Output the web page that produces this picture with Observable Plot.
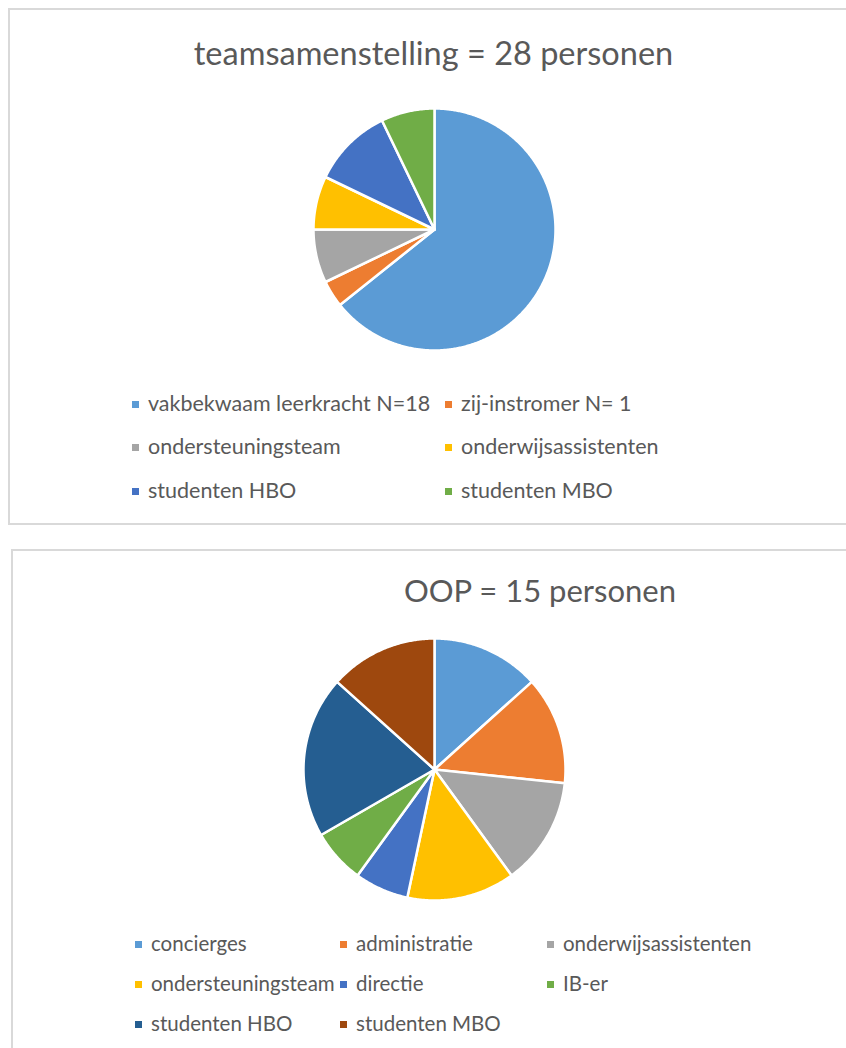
<!DOCTYPE html>
<html><head><meta charset="utf-8">
<script src="https://cdn.jsdelivr.net/npm/d3@7"></script>
<script src="https://cdn.jsdelivr.net/npm/@observablehq/plot@0.6"></script>
<style>
html,body{margin:0;padding:0;background:#fff}
body{width:846px;height:1048px;overflow:hidden;position:relative;font-family:Lato,"Open Sans",sans-serif;color:#595959}
.box{position:absolute;border:2px solid #d9d9d9;box-sizing:border-box}
.title{position:absolute;white-space:nowrap;line-height:1;transform:translateX(-50%)}
.pie{position:absolute}
.leg{position:absolute;white-space:nowrap;height:24px;line-height:24px;display:flex;align-items:center}
.sw{width:7px;height:7px;margin-right:9px;flex:none;position:relative;top:1px}
</style></head><body>
<script>
// ---- data ----
const teamCategories = ["vakbekwaam leerkracht N=18","zij-instromer N= 1","ondersteuningsteam","onderwijsassistenten","studenten HBO","studenten MBO"];
const teamValues = [18, 1, 2, 2, 3, 2];
const teamColors = ["#5B9BD5","#ED7D31","#A5A5A5","#FFC000","#4472C4","#70AD47"];
const teamTitle = "teamsamenstelling = 28 personen";

const oopCategories = ["concierges","administratie","onderwijsassistenten","ondersteuningsteam","directie","IB-er","studenten HBO","studenten MBO"];
const oopValues = [2, 2, 2, 2, 1, 1, 3, 2];
const oopColors = ["#5B9BD5","#ED7D31","#A5A5A5","#FFC000","#4472C4","#70AD47","#255E91","#9E480E"];
const oopTitle = "OOP = 15 personen";

// ---- helpers ----
function piePlot(cats, vals, colors, r) {
  const pad = 4;
  const arcs = d3.pie().sort(null).value(d => d)(vals);
  const pts = [];
  arcs.forEach((a, i) => {
    const n = Math.max(2, Math.ceil((a.endAngle - a.startAngle) / (Math.PI / 360)));
    pts.push({c: cats[i], x: 0, y: 0});
    for (let k = 0; k <= n; k++) {
      const t = a.startAngle + (a.endAngle - a.startAngle) * k / n;
      pts.push({c: cats[i], x: r * Math.sin(t), y: r * Math.cos(t)});
    }
    pts.push({c: cats[i], x: 0, y: 0});
  });
  const R = r + pad;
  return Plot.plot({
    width: 2 * R, height: 2 * R, margin: 0,
    x: {domain: [-R, R], axis: null},
    y: {domain: [-R, R], axis: null},
    color: {domain: cats, range: colors},
    marks: [
      Plot.line(pts, {x: "x", y: "y", z: "c", fill: "c", stroke: "white", strokeWidth: 2.5, strokeLinejoin: "round", curve: "linear"})
    ]
  });
}

function add(el, cls, style) {
  const d = document.createElement("div");
  d.className = cls;
  Object.assign(d.style, style);
  if (el) d.appendChild(el);
  document.body.appendChild(d);
  return d;
}

function title(text, cx, top, size) {
  const d = add(null, "title", {left: cx + "px", top: top + "px", fontSize: size + "px"});
  d.textContent = text;
}

function legend(cats, colors, positions, size) {
  cats.forEach((c, i) => {
    const [x, y] = positions[i];
    const d = add(null, "leg", {left: x + "px", top: (y - 12) + "px", fontSize: size + "px"});
    const s = document.createElement("span");
    s.className = "sw"; s.style.background = colors[i];
    const t = document.createElement("span"); t.textContent = c;
    d.appendChild(s); d.appendChild(t);
  });
}

// ---- boxes ----
add(null, "box", {left: "8px", top: "8px", width: "880px", height: "517px"});
add(null, "box", {left: "11px", top: "549px", width: "880px", height: "540px"});

// ---- chart 1 ----
title(teamTitle, 433.5, 37, 32.5);
const p1 = piePlot(teamCategories, teamValues, teamColors, 121);
add(p1, "pie", {left: (434 - 125) + "px", top: (229 - 125) + "px"});
legend(teamCategories, teamColors,
  [[132, 403], [445, 403], [132, 446], [445, 446], [132, 490], [445, 490]], 21.5);

// ---- chart 2 ----
title(oopTitle, 540, 575, 31);
const p2 = piePlot(oopCategories, oopValues, oopColors, 131);
add(p2, "pie", {left: (434 - 135) + "px", top: (769 - 135) + "px"});
legend(oopCategories, oopColors,
  [[135, 943], [340, 943], [547, 943], [135, 983], [340, 983], [547, 983], [135, 1023], [340, 1023]], 20.5);
</script>
</body></html>
